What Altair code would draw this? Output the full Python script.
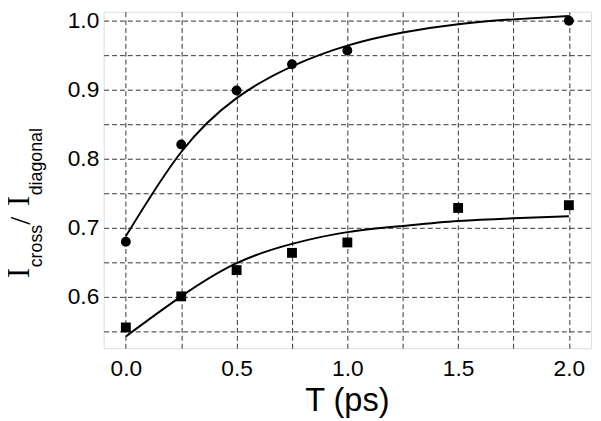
import altair as alt
import pandas as pd

# measured data
t_circle = [0.0, 0.25, 0.5, 0.75, 1.0, 2.0]
r_circle = [0.680, 0.821, 0.899, 0.937, 0.957, 1.000]
t_square = [0.0, 0.25, 0.5, 0.75, 1.0, 1.5, 2.0]
r_square = [0.556, 0.601, 0.639, 0.664, 0.679, 0.729, 0.733]

# fitted curves
t_fit_up = [0.0, 0.25, 0.5, 0.75, 1.0, 1.25, 1.5, 1.75, 2.0]
r_fit_up = [0.688, 0.810, 0.888, 0.934, 0.964, 0.983, 0.995, 1.002, 1.007]
t_fit_lo = [0.0, 0.25, 0.5, 0.75, 1.0, 1.25, 1.5, 1.75, 2.0]
r_fit_lo = [0.543, 0.601, 0.649, 0.677, 0.694, 0.703, 0.710, 0.714, 0.717]

x_grid = [0.0, 0.25, 0.5, 0.75, 1.0, 1.25, 1.5, 1.75, 2.0]
y_grid = [0.55, 0.6, 0.65, 0.7, 0.75, 0.8, 0.85, 0.9, 0.95, 1.0]

x_title = "T (ps)"
y_title_parts = ["I", "cross", "/", "I", "diagonal"]

pts_c = pd.DataFrame({"t": t_circle, "r": r_circle})
pts_s = pd.DataFrame({"t": t_square, "r": r_square})
fit_u = pd.DataFrame({"t": t_fit_up, "r": r_fit_up})
fit_l = pd.DataFrame({"t": t_fit_lo, "r": r_fit_lo})

grid_style = dict(grid=True, gridDash=[5, 3], gridColor="#333333", gridWidth=1,
                  ticks=False, domain=False, labelColor="black",
                  labelFont="Liberation Sans", labelFontSize=23,
                  labelOverlap=False, labelFlush=False, title=None)

X = alt.X("t:Q", scale=alt.Scale(domain=[-0.1, 2.1], nice=False, zero=False),
          axis=alt.Axis(values=x_grid, labelPadding=10,
                        labelExpr="abs(datum.value*2 - round(datum.value*2)) < 0.01 ? format(datum.value, '.1f') : ''",
                        **grid_style))
Y = alt.Y("r:Q", scale=alt.Scale(domain=[0.526, 1.013], nice=False, zero=False),
          axis=alt.Axis(values=y_grid, labelPadding=5,
                        labelExpr="abs(datum.value*10 - round(datum.value*10)) < 0.01 ? format(datum.value, '.1f') : ''",
                        **grid_style))

circles = alt.Chart(pts_c).mark_point(shape="circle", filled=True, color="black", size=100, opacity=1).encode(x=X, y=Y)
squares = alt.Chart(pts_s).mark_point(shape="square", filled=True, color="black", size=100, opacity=1).encode(x=X, y=Y)
line_u = alt.Chart(fit_u).mark_line(color="black", strokeWidth=2, interpolate="natural").encode(x=X, y=Y)
line_l = alt.Chart(fit_l).mark_line(color="black", strokeWidth=2, interpolate="natural").encode(x=X, y=Y)

one = pd.DataFrame({"a": [0]})

def txt(s, x, y, font, size, angle=270, align="left"):
    return alt.Chart(one).mark_text(text=s, font=font, fontSize=size, angle=angle,
                                    align=align, baseline="alphabetic", color="black").encode(
        x=alt.value(x), y=alt.value(y))

title_layers = [
    txt(y_title_parts[0], -76, 270, "Liberation Serif", 31),
    txt(y_title_parts[1], -63, 259, "Liberation Sans", 18),
    txt(y_title_parts[2], -75, 216, "Liberation Serif", 29),
    txt(y_title_parts[3], -76, 197, "Liberation Serif", 31),
    txt(y_title_parts[4], -63, 186, "Liberation Sans", 18),
    txt(x_title, 247, 405, "Liberation Sans", 33, angle=0, align="center"),
]

chart = alt.layer(circles, squares, line_u, line_l, *title_layers).properties(
    width=494, height=341,
    autosize=alt.AutoSizeParams(type="none"),
    padding={"left": 97, "top": 1, "right": 2, "bottom": 70},
).configure_view(stroke="black", strokeWidth=1.5).configure(background="white")

chart.save("out.html", embed_options={"renderer": "svg", "actions": False})
